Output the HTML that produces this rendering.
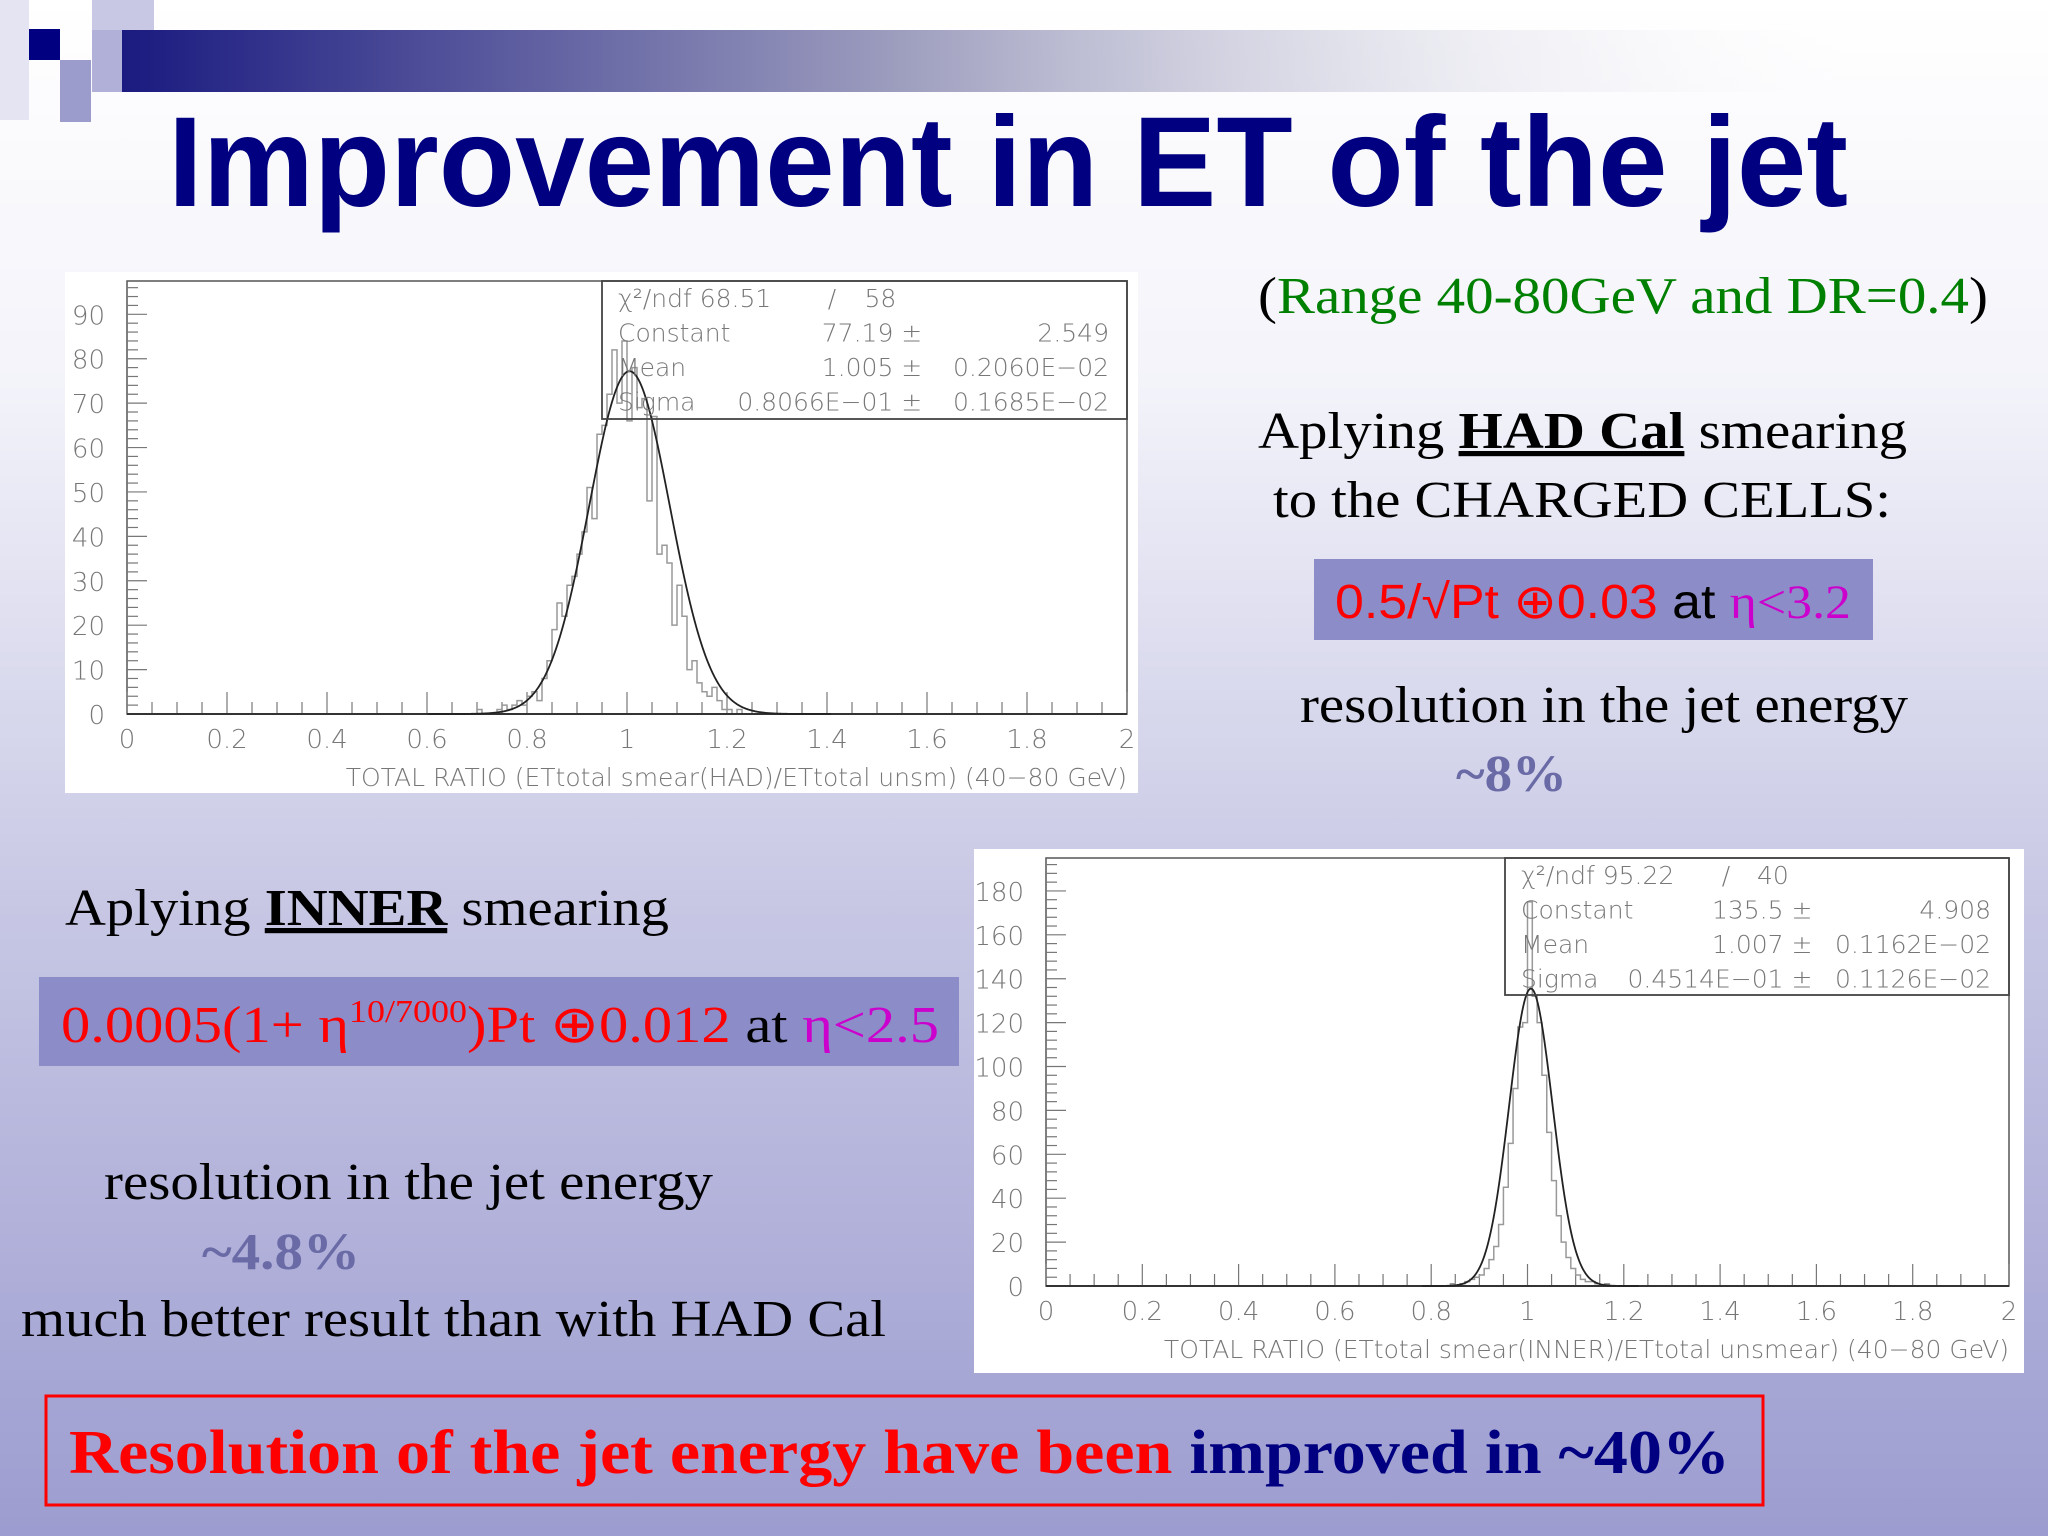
<!DOCTYPE html>
<html><head><meta charset="utf-8"><style>
html,body{margin:0;padding:0;width:2048px;height:1536px;overflow:hidden}
svg{display:block}
.ax{font-family:"DejaVu Sans","Liberation Sans",sans-serif;font-weight:200;fill:#777}
.serif{font-family:"Liberation Serif",serif}
</style></head><body>
<svg id="slide" width="2048" height="1536" viewBox="0 0 2048 1536" xmlns="http://www.w3.org/2000/svg">
<defs>
<linearGradient id="bg" x1="0" y1="0" x2="0" y2="1">
<stop offset="0" stop-color="#ffffff"/><stop offset="0.25" stop-color="#f3f3fa"/><stop offset="0.6" stop-color="#c6c6e4"/><stop offset="1" stop-color="#9c9cd0"/></linearGradient>
<linearGradient id="bar" x1="0" y1="0" x2="1" y2="0">
<stop offset="0" stop-color="#1a1a80"/><stop offset="0.45" stop-color="#a0a0c0"/><stop offset="1" stop-color="#ffffff" stop-opacity="0"/></linearGradient>
</defs>
<rect width="2048" height="1536" fill="url(#bg)"/>
<g>
<rect x="122" y="30" width="1760" height="62" fill="url(#bar)"/>
<rect x="92" y="0" width="62" height="30" fill="#c8c8e4"/>
<rect x="92" y="30" width="30" height="62" fill="#b0b0d8"/>
<rect x="29" y="29" width="31" height="31" fill="#000080"/>
<rect x="60" y="60" width="31" height="62" fill="#9c9ccc"/>
<rect x="0" y="0" width="29" height="120" fill="#e4e4f2"/>
</g>
<text x="168" y="206" font-family="Liberation Sans,sans-serif" font-weight="bold" font-size="128" fill="#000080" textLength="1680" lengthAdjust="spacingAndGlyphs">Improvement in ET of the jet</text>

<g id="chart1"></g>
<g id="chart2"></g>

<g class="serif" font-size="52">
<text x="1258" y="313" textLength="730" lengthAdjust="spacingAndGlyphs">(<tspan fill="#008000">Range 40-80GeV and DR=0.4</tspan>)</text>
<text x="1258" y="448" textLength="649" lengthAdjust="spacingAndGlyphs">Aplying <tspan font-weight="bold" text-decoration="underline">HAD Cal</tspan> smearing</text>
<text x="1273" y="517" textLength="618" lengthAdjust="spacingAndGlyphs">to the CHARGED CELLS:</text>
<rect x="1314" y="559" width="559" height="81" fill="#8c8cc8"/>
<text x="1335" y="618" font-family="Liberation Sans,sans-serif" font-size="48" textLength="516" lengthAdjust="spacingAndGlyphs"><tspan fill="#ff0000">0.5/√Pt ⊕0.03</tspan><tspan fill="#000"> at </tspan><tspan fill="#cc00cc" font-family="Liberation Serif,serif">η&lt;3.2</tspan></text>
<text x="1300" y="722" textLength="608" lengthAdjust="spacingAndGlyphs">resolution in the jet energy</text>
<text x="1456" y="791" font-weight="bold" fill="#6a6aa6" textLength="111" lengthAdjust="spacingAndGlyphs">~8%</text>
</g>
<g class="serif" font-size="52">
<text x="65" y="925" textLength="604" lengthAdjust="spacingAndGlyphs">Aplying <tspan font-weight="bold" text-decoration="underline">INNER</tspan> smearing</text>
<rect x="39" y="977" width="920" height="89" fill="#8c8cc8"/>
<text x="61" y="1042" textLength="878" lengthAdjust="spacingAndGlyphs"><tspan fill="#ff0000">0.0005(1+ η</tspan><tspan fill="#ff0000" font-size="32" dy="-20">10/7000</tspan><tspan fill="#ff0000" dy="20">)Pt ⊕0.012</tspan><tspan fill="#000">  at </tspan><tspan fill="#cc00cc">η&lt;2.5</tspan></text>
<text x="104" y="1199" textLength="609" lengthAdjust="spacingAndGlyphs">resolution in the jet energy</text>
<text x="202" y="1269" font-weight="bold" fill="#6a6aa6" textLength="158" lengthAdjust="spacingAndGlyphs">~4.8%</text>
<text x="21" y="1336" textLength="865" lengthAdjust="spacingAndGlyphs">much better result than with HAD Cal</text>
</g>
<rect x="46" y="1396" width="1717" height="109" fill="none" stroke="#ff0000" stroke-width="3"/>
<text x="69" y="1473" class="serif" font-size="62" font-weight="bold" textLength="1661" lengthAdjust="spacingAndGlyphs"><tspan fill="#ff0000">Resolution of the jet energy have been </tspan><tspan fill="#000080">improved in ~40%</tspan></text>
</svg>
<script>
const NS="http://www.w3.org/2000/svg";
// chart 1 data (HAD Cal)
const c1BinStart=0.70;
const c1Counts=[1,0,0,0,1,2,1,2,3,2,4,5,3,8,12,19,25,22,29,31,36,41,51,44,63,65,72,82,70,84,66,78,69,71,48,67,36,38,34,20,29,22,10,12,7,5,4,6,3,1,1,0,1];
const c1Fit=[77.19,1.005,0.08066];
const c1YTicks=[0,10,20,30,40,50,60,70,80,90];
const c1XTicks=[0,0.2,0.4,0.6,0.8,1,1.2,1.4,1.6,1.8,2];
const c1Stats=[["χ²/ndf 68.51","/","58"],["Constant","77.19 ±","2.549"],["Mean","1.005 ±","0.2060E−02"],["Sigma","0.8066E−01 ±","0.1685E−02"]];
// chart 2 data (INNER)
const c2BinStart=0.84;
const c2Counts=[1,0,1,2,3,4,5,8,12,18,28,45,65,90,118,120,175,132,120,96,70,48,32,20,13,8,5,3,2,2,1,0,1];
const c2Fit=[135.5,1.007,0.04514];
const c2YTicks=[0,20,40,60,80,100,120,140,160,180];
const c2XTicks=[0,0.2,0.4,0.6,0.8,1,1.2,1.4,1.6,1.8,2];
const c2Stats=[["χ²/ndf 95.22","/","40"],["Constant","135.5 ±","4.908"],["Mean","1.007 ±","0.1162E−02"],["Sigma","0.4514E−01 ±","0.1126E−02"]];

function mk(tag,attrs,parent){const e=document.createElementNS(NS,tag);for(const k in attrs)e.setAttribute(k,attrs[k]);parent.appendChild(e);return e;}

function draw(g,cfg){
  const {panel,plot,ymax,counts,binStart,fit,yTicks,xTicks,stats,statBox,xlabel}=cfg;
  const p=mk('rect',{x:panel[0],y:panel[1],width:panel[2],height:panel[3],fill:'#fff'},g);
  
  
  const [L,T,R,B]=plot;
  const sx=v=>L+(v/2)*(R-L);
  const sy=v=>B-(v/ymax)*(B-T);
  const f=mk('rect',{x:L,y:T,width:R-L,height:B-T,fill:'none',stroke:'#555','stroke-width':1.5},g);
  
  
  const step=yTicks[1]-yTicks[0];
  for(let v=0;v<=ymax;v+=step/5){
    const major=Math.abs(v/step-Math.round(v/step))<1e-6;
    mk('line',{x1:L,x2:L+(major?20:11),y1:sy(v),y2:sy(v),stroke:'#777','stroke-width':1.2},g);
  }
  yTicks.forEach(v=>{const t=mk('text',{x:L-22,y:sy(v)+10,'text-anchor':'end','font-size':26,class:'ax'},g);t.textContent=v;
    
    });
  for(let v=0;v<=2.0001;v+=0.05){
    const major=Math.abs(v*5-Math.round(v*5))<1e-6;
    mk('line',{x1:sx(v),x2:sx(v),y1:B,y2:B-(major?22:12),stroke:'#777','stroke-width':1.2},g);
  }
  xTicks.forEach(v=>{const t=mk('text',{x:sx(v),y:B+34,'text-anchor':'middle','font-size':26,class:'ax'},g);t.textContent=v;
    
    });
  const xl=mk('text',{x:R,y:B+72,'text-anchor':'end','font-size':25,class:'ax'},g);xl.textContent=xlabel;
  
  
  let d=`M${sx(binStart)},${B}`;
  counts.forEach((c,i)=>{const x0=sx(binStart+i*0.01),x1=sx(binStart+(i+1)*0.01);d+=`L${x0},${sy(c)}L${x1},${sy(c)}`;});
  d+=`L${sx(binStart+counts.length*0.01)},${B}`;
  const h=mk('path',{d:d,fill:'none',stroke:'#999','stroke-width':1.5},g);
  
  
  mk('line',{x1:L,x2:R,y1:B,y2:B,stroke:'#333','stroke-width':2},g);
  let fd='';
  for(let x=fit[1]-5*fit[2];x<=fit[1]+5*fit[2];x+=0.002){const y=fit[0]*Math.exp(-0.5*((x-fit[1])/fit[2])**2);fd+=(fd?'L':'M')+sx(x)+','+sy(y);}
  const fp=mk('path',{d:fd,fill:'none',stroke:'#222','stroke-width':1.8},g);
  
  
  const [bx,by,bw,bh]=statBox;
  const sb=mk('rect',{x:bx,y:by,width:bw,height:bh,fill:'none',stroke:'#444','stroke-width':1.8},g);
  
  
  stats.forEach((r,i)=>{
    const yy=by+26+i*34.5;
    const a=mk('text',{x:bx+16,y:yy,'font-size':25,class:'ax'},g);a.textContent=r[0];
    
    
    const b=mk('text',{x:i==0?bx+bw*0.43:bx+bw*0.61,y:yy,'text-anchor':i==0?'start':'end','font-size':25,class:'ax'},g);b.textContent=r[1];
    
    
    const c=mk('text',{x:i==0?bx+bw*0.5:bx+bw-18,y:yy,'text-anchor':i==0?'start':'end','font-size':25,class:'ax'},g);c.textContent=r[2];
    
    
  });
}
draw(document.getElementById('chart1'),{panel:[65,272,1073,521],plot:[127,281,1127,714],ymax:97.5,counts:c1Counts,binStart:c1BinStart,fit:c1Fit,yTicks:c1YTicks,xTicks:c1XTicks,stats:c1Stats,statBox:[602,281,525,138],xlabel:"TOTAL RATIO (ETtotal smear(HAD)/ETtotal  unsm) (40−80 GeV)"});
draw(document.getElementById('chart2'),{panel:[974,849,1050,524],plot:[1046,858,2009,1286],ymax:195,counts:c2Counts,binStart:c2BinStart,fit:c2Fit,yTicks:c2YTicks,xTicks:c2XTicks,stats:c2Stats,statBox:[1505,858,504,137],xlabel:"TOTAL RATIO (ETtotal smear(INNER)/ETtotal  unsmear) (40−80 GeV)"});
</script>
</body></html>
